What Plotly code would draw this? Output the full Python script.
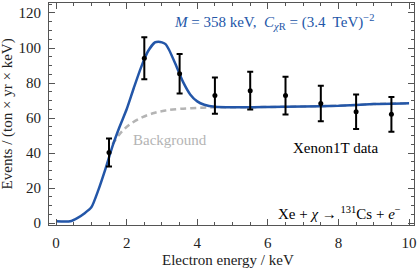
import plotly.graph_objects as go

# Data
data_x = [1.5, 2.5, 3.5, 4.5, 5.5, 6.5, 7.5, 8.5, 9.5]
data_y = [40.3, 94.2, 85.3, 72.8, 75.6, 72.8, 68.3, 63.6, 62.1]
data_err = [8.0, 12.0, 11.3, 10.3, 10.8, 10.8, 10.2, 9.9, 9.9]

model_x = [0, 0.4, 0.6, 0.8, 1.0, 1.2, 1.4, 1.6, 1.8, 2.0, 2.2, 2.4, 2.6, 2.8, 2.9,
           3.0, 3.1, 3.2, 3.4, 3.6, 3.8, 4.0, 4.2, 4.5, 5, 6, 7, 8, 9, 10]
model_y = [1, 1, 2.8, 5.5, 9, 19, 31, 44, 55, 65, 77, 88.5, 98, 103.2, 103.6,
           103.2, 102.2, 99, 90, 80.5, 73.5, 69.5, 67.6, 66.4, 66.1, 66.3, 66.6, 67, 68, 68.5]

bkg_x = [1.6, 1.75, 1.9, 2.1, 2.45, 2.8, 3.1, 3.5, 4.0, 4.5, 5, 6, 7, 8, 9, 10]
bkg_y = [45, 49.5, 53, 56.5, 60.5, 63, 64.3, 65.2, 65.8, 66.1, 66.1, 66.3, 66.6, 67, 68, 68.5]

x_ticks = [0, 2, 4, 6, 8, 10]
y_ticks = [0, 20, 40, 60, 80, 100, 120]

FONT = "Liberation Serif"
BLUE = "#2356a8"

fig = go.Figure()
fig.add_trace(go.Scatter(x=bkg_x, y=bkg_y, mode="lines",
                         line=dict(color="#b4b4b4", width=2.5, dash="6px,4px", shape="spline"),
                         hoverinfo="skip", showlegend=False))
fig.add_trace(go.Scatter(x=model_x, y=model_y, mode="lines",
                         line=dict(color=BLUE, width=2.5, shape="spline", smoothing=0.6),
                         showlegend=False))
fig.add_trace(go.Scatter(x=data_x, y=data_y, mode="markers",
                         marker=dict(color="black", size=5),
                         error_y=dict(type="data", array=data_err, color="black",
                                      thickness=2, width=3),
                         showlegend=False))

fig.add_annotation(x=3.29, y=115, xref="x", yref="y", xanchor="left", yanchor="middle",
                   text="<i>M</i> = 358 keV,  <i>C</i><sub><i>χ</i>R</sub> = (3.4  TeV)<sup>−2</sup>",
                   showarrow=False, font=dict(family=FONT, size=15, color=BLUE))
fig.add_annotation(x=2.13, y=47.2, xref="x", yref="y", xanchor="left", yanchor="middle",
                   text="Background", showarrow=False,
                   font=dict(family=FONT, size=15, color="#b4b4b4"))
fig.add_annotation(x=6.66, y=42.7, xref="x", yref="y", xanchor="left", yanchor="middle",
                   text="Xenon1T data", showarrow=False,
                   font=dict(family=FONT, size=15, color="black"))
fig.add_annotation(x=6.24, y=5.7, xref="x", yref="y", xanchor="left", yanchor="middle",
                   text="Xe + <i>χ</i> → <sup>131</sup>Cs + <i>e</i><sup>−</sup>", showarrow=False,
                   font=dict(family=FONT, size=15, color="black"))

# Axis titles placed as annotations for exact positioning
fig.add_annotation(x=0.49, y=-0.157, xref="paper", yref="paper", xanchor="center", yanchor="middle",
                   text="Electron energy / keV", showarrow=False,
                   font=dict(family=FONT, size=15, color="#222222"))
fig.add_annotation(x=-0.114, y=0.5, xref="paper", yref="paper", xanchor="center", yanchor="middle",
                   text="Events / (ton × yr × keV)", showarrow=False, textangle=-90,
                   font=dict(family=FONT, size=15, color="#222222"))

axis_common = dict(showline=True, linecolor="#555555", linewidth=1, mirror="ticks",
                   ticks="inside", ticklen=6, tickcolor="#555555", showgrid=False,
                   zeroline=False, ticklabeloverflow="allow",
                   tickfont=dict(family=FONT, size=15, color="#222222"))

fig.update_xaxes(range=[-0.2, 10.14], tickvals=x_ticks, ticktext=[str(v) for v in x_ticks],
                 minor=dict(ticks="inside", ticklen=3, dtick=0.5, tick0=0, tickcolor="#555555"),
                 ticklabelstandoff=4, **axis_common)
fig.update_yaxes(range=[-1.1, 125.7], tickvals=y_ticks, ticktext=[str(v) for v in y_ticks],
                 minor=dict(ticks="inside", ticklen=3, dtick=5, tick0=0, tickcolor="#555555"),
                 ticklabelstandoff=4, **axis_common)

fig.update_layout(width=419, height=270, margin=dict(l=49, r=2, t=2, b=45),
                  plot_bgcolor="white", paper_bgcolor="white", showlegend=False)

fig.write_html("out.html", config={"displayModeBar": False},
               post_script="document.body.style.margin='0';document.body.style.overflow='hidden';")
